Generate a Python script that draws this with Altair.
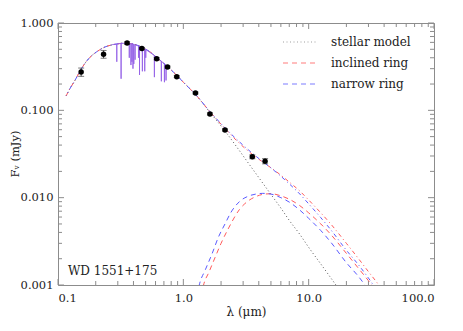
import altair as alt
import pandas as pd

# ---------------- data ----------------
# photometry (wavelength in micron, flux in mJy, 1-sigma error)
obs_wl = [0.153, 0.231, 0.356, 0.467, 0.613, 0.748, 0.886, 1.25, 1.63, 2.15, 3.55, 4.49]
obs_flux = [0.275, 0.44, 0.59, 0.51, 0.39, 0.313, 0.243, 0.158, 0.091, 0.0595, 0.0294, 0.0262]
obs_err = [0.03, 0.045, 0.02, 0.015, 0.01, 0.008, 0.006, 0.004, 0.0025, 0.0016, 0.0015, 0.0018]

# model wavelength grid and curves
model_wl = [0.116, 0.125, 0.137, 0.150, 0.164, 0.180, 0.204, 0.237, 0.285, 0.343, 0.40, 0.47,
            0.55, 0.61, 0.75, 0.89, 1.0, 1.25, 1.63, 2.15, 2.8, 3.3, 3.8, 4.3, 5.0, 6.0, 7.0,
            8.5, 10.0, 12.5, 15.0, 20.0, 25.0, 30.0, 35.0, 40.0]
star_flux = [0.146, 0.179, 0.222, 0.282, 0.345, 0.405, 0.469, 0.531, 0.57, 0.588, 0.575, 0.525,
             0.46, 0.405, 0.315, 0.25, 0.21, 0.152, 0.095, 0.058, 0.0346, 0.0249, 0.0188, 0.0147,
             0.0109, 0.0076, 0.0055, 0.0038, 0.0027, 0.00174, 0.00121, 0.00068, 0.00044, 0.0003,
             0.00022, 0.00017]
narrow_total = [0.146, 0.179, 0.222, 0.282, 0.345, 0.405, 0.469, 0.531, 0.57, 0.588, 0.575, 0.525,
                0.46, 0.405, 0.315, 0.25, 0.21, 0.152, 0.097, 0.063, 0.0436, 0.0353, 0.0298, 0.0259,
                0.0219, 0.0176, 0.0144, 0.011, 0.0085, 0.0059, 0.0043, 0.0025, 0.0017, 0.0012,
                0.00087, 0.00065]
inclined_total = [0.146, 0.179, 0.222, 0.282, 0.345, 0.405, 0.469, 0.531, 0.57, 0.588, 0.575, 0.525,
                  0.46, 0.405, 0.315, 0.25, 0.21, 0.152, 0.0965, 0.062, 0.042, 0.0341, 0.0291, 0.0256,
                  0.022, 0.0181, 0.0151, 0.0119, 0.0094, 0.0067, 0.005, 0.003, 0.002, 0.00142,
                  0.00107, 0.00082]

# dust-only emission of the two ring models
narrow_wl = [1.25, 1.34, 1.5, 1.7, 1.9, 2.15, 2.4, 2.8, 3.3, 3.8, 4.3, 5.0, 6.0, 7.0, 8.5, 10.0,
             12.5, 15.0, 20.0, 25.0, 30.0, 35.0]
narrow_flux = [0.0006, 0.001, 0.0015, 0.0023, 0.0035, 0.005, 0.0068, 0.009, 0.0104, 0.011, 0.0112,
               0.011, 0.01, 0.0089, 0.0072, 0.0058, 0.0042, 0.0031, 0.0018, 0.00125, 0.00088, 0.00065]
incl_wl = [1.35, 1.45, 1.6, 1.8, 2.0, 2.3, 2.8, 3.3, 3.8, 4.3, 5.0, 6.0, 7.0, 8.5, 10.0, 12.5,
           15.0, 20.0, 25.0, 30.0, 35.0, 40.0]
incl_flux = [0.0006, 0.001, 0.0014, 0.0021, 0.003, 0.0045, 0.0073, 0.0092, 0.0103, 0.0109, 0.0111,
             0.0105, 0.0096, 0.0081, 0.0067, 0.005, 0.0038, 0.0023, 0.00155, 0.00112, 0.00085, 0.00065]

# optical spectrum: absorption lines (centre, continuum, line-core flux)
spec_start = [0.27, 0.565]
spec_end = [0.75, 0.317]
line_wl = [0.2945, 0.3188, 0.3705, 0.3820, 0.3889, 0.3965, 0.4026, 0.4121, 0.4388, 0.4471,
           0.4713, 0.4922, 0.5016, 0.5876, 0.6678, 0.7065, 0.7281]
line_cont = [0.575, 0.585, 0.585, 0.58, 0.577, 0.573, 0.568, 0.562, 0.545, 0.54, 0.522, 0.505,
             0.497, 0.425, 0.365, 0.34, 0.327]
line_core = [0.36, 0.23, 0.40, 0.33, 0.36, 0.30, 0.34, 0.38, 0.40, 0.254, 0.28, 0.28, 0.40, 0.24,
             0.215, 0.21, 0.22]

x_major = [0.1, 1.0, 10.0, 100.0]
y_major = [0.001, 0.01, 0.1, 1.0]
x_minor = [k * d for d in (0.1, 1.0, 10.0) for k in range(2, 10)]
y_minor = [k * d for d in (0.001, 0.01, 0.1) for k in range(2, 10)]

legend_labels = ["stellar model", "inclined ring", "narrow ring"]

# ---------------- tables ----------------
W, H = 376, 262
FONT = "DejaVu Serif"
TXT = "#222222"
FRAME = "#8c8c8c"
RED = "#ff5a5a"
BLUE = "#5a5aff"

obs = pd.DataFrame({"wl": obs_wl, "f": obs_flux,
                    "lo": [f - e for f, e in zip(obs_flux, obs_err)],
                    "hi": [f + e for f, e in zip(obs_flux, obs_err)]})
model = pd.DataFrame({"wl": model_wl, "star": star_flux, "nt": narrow_total, "it": inclined_total})
narrow = pd.DataFrame({"wl": narrow_wl, "f": narrow_flux})
incl = pd.DataFrame({"wl": incl_wl, "f": incl_flux})

spec_rows = [{"wl": spec_start[0], "f": spec_start[1]}]
for c, cont, core in zip(line_wl, line_cont, line_core):
    spec_rows += [{"wl": c * 0.9994, "f": cont}, {"wl": c, "f": core}, {"wl": c * 1.0006, "f": cont}]
spec_rows.append({"wl": spec_end[0], "f": spec_end[1]})
spec = pd.DataFrame(spec_rows)

xticks_major = pd.DataFrame({"v": x_major})
xticks_minor = pd.DataFrame({"v": x_minor})
yticks_major = pd.DataFrame({"v": y_major})
yticks_minor = pd.DataFrame({"v": y_minor})

xscale = alt.Scale(type="log", domain=[0.1, 100], nice=False)
yscale = alt.Scale(type="log", domain=[0.001, 1], nice=False)
xaxis = alt.Axis(values=x_major, format=".1f", title="λ (μm)", labelPadding=7, titlePadding=3)
yaxis = alt.Axis(values=y_major, format=".3f", title=None, labelPadding=5)


def X(field):
    return alt.X(field, type="quantitative", scale=xscale, axis=xaxis)


def Y(field):
    return alt.Y(field, type="quantitative", scale=yscale, axis=yaxis)


layers = []

# axis ticks (inside, on all four sides)
for df, ln in ((xticks_major, 6), (xticks_minor, 4)):
    layers.append(alt.Chart(df).mark_rule(color=FRAME, strokeWidth=1).encode(
        x=X("v"), y=alt.value(H), y2=alt.value(H - ln)))
    layers.append(alt.Chart(df).mark_rule(color=FRAME, strokeWidth=1).encode(
        x=X("v"), y=alt.value(0), y2=alt.value(ln)))
for df, ln in ((yticks_major, 6), (yticks_minor, 4)):
    layers.append(alt.Chart(df).mark_rule(color=FRAME, strokeWidth=1).encode(
        y=Y("v"), x=alt.value(0), x2=alt.value(ln)))
    layers.append(alt.Chart(df).mark_rule(color=FRAME, strokeWidth=1).encode(
        y=Y("v"), x=alt.value(W), x2=alt.value(W - ln)))

# model curves
layers.append(alt.Chart(model).mark_line(color="#555555", strokeWidth=1, strokeDash=[1, 2.5],
                                         clip=True, interpolate="monotone").encode(x=X("wl"), y=Y("star")))
layers.append(alt.Chart(incl).mark_line(color=RED, strokeWidth=1, strokeDash=[5, 4],
                                        clip=True, interpolate="monotone").encode(x=X("wl"), y=Y("f")))
layers.append(alt.Chart(narrow).mark_line(color=BLUE, strokeWidth=1, strokeDash=[5, 4],
                                          clip=True, interpolate="monotone").encode(x=X("wl"), y=Y("f")))
layers.append(alt.Chart(model).mark_line(color=RED, strokeWidth=1, strokeDash=[4, 3, 1, 3],
                                         clip=True, interpolate="monotone").encode(x=X("wl"), y=Y("it")))
layers.append(alt.Chart(model).mark_line(color=BLUE, strokeWidth=1, strokeDash=[4, 3, 1, 3],
                                         strokeDashOffset=3.5, clip=True,
                                         interpolate="monotone").encode(x=X("wl"), y=Y("nt")))

# spectrum
layers.append(alt.Chart(spec).mark_line(color="#9461e6", strokeWidth=0.9, clip=True).encode(
    x=X("wl"), y=Y("f")))

# photometry with error bars
layers.append(alt.Chart(obs).mark_rule(color="#444444", strokeWidth=1).encode(
    x=X("wl"), y=Y("lo"), y2="hi"))
layers.append(alt.Chart(obs).mark_tick(color="#444444", orient="horizontal", size=6, thickness=1).encode(
    x=X("wl"), y=Y("lo")))
layers.append(alt.Chart(obs).mark_tick(color="#444444", orient="horizontal", size=6, thickness=1).encode(
    x=X("wl"), y=Y("hi")))
layers.append(alt.Chart(obs).mark_circle(color="black", size=30, opacity=1).encode(
    x=X("wl"), y=Y("f")))

# legend
leg_styles = [("#888888", [1, 2.5]), (RED, [5, 4]), (BLUE, [5, 4])]
for i, (lab, (col, dash)) in enumerate(zip(legend_labels, leg_styles)):
    ypos = 19 + 21 * i
    d = pd.DataFrame({"label": [lab]})
    layers.append(alt.Chart(d).mark_rule(color=col, strokeWidth=1, strokeDash=dash, opacity=0.8).encode(
        x=alt.value(225), x2=alt.value(260), y=alt.value(ypos)))
    layers.append(alt.Chart(d).mark_text(align="left", baseline="middle", font=FONT, fontSize=12,
                                         color=TXT).encode(
        x=alt.value(273), y=alt.value(ypos), text="label:N"))

layers.append(alt.Chart(pd.DataFrame({"label": ["WD 1551+175"]})).mark_text(
    align="left", baseline="middle", font=FONT, fontSize=12, color=TXT).encode(
    x=alt.value(10), y=alt.value(248), text="label:N"))

# y-axis title as rotated text
layers.append(alt.Chart(pd.DataFrame({"label": ["Fᵥ (mJy)"]})).mark_text(
    align="center", baseline="middle", angle=270, font=FONT, fontSize=11.5, color=TXT).encode(
    x=alt.value(-42), y=alt.value(H / 2), text="label:N"))

chart = alt.layer(*layers).properties(
    width=W, height=H,
    padding={"left": 50, "top": 15, "right": 21, "bottom": 38},
    autosize=alt.AutoSizeParams(type="none"),
).configure_view(stroke=FRAME, strokeWidth=1).configure_axis(
    labelFont=FONT, labelFontSize=11.5, labelColor=TXT,
    titleFont=FONT, titleFontSize=12, titleFontWeight="normal", titleColor=TXT,
    domain=False, ticks=False, grid=False,
)

chart.save("out.html", embed_options={"renderer": "svg", "actions": False})
